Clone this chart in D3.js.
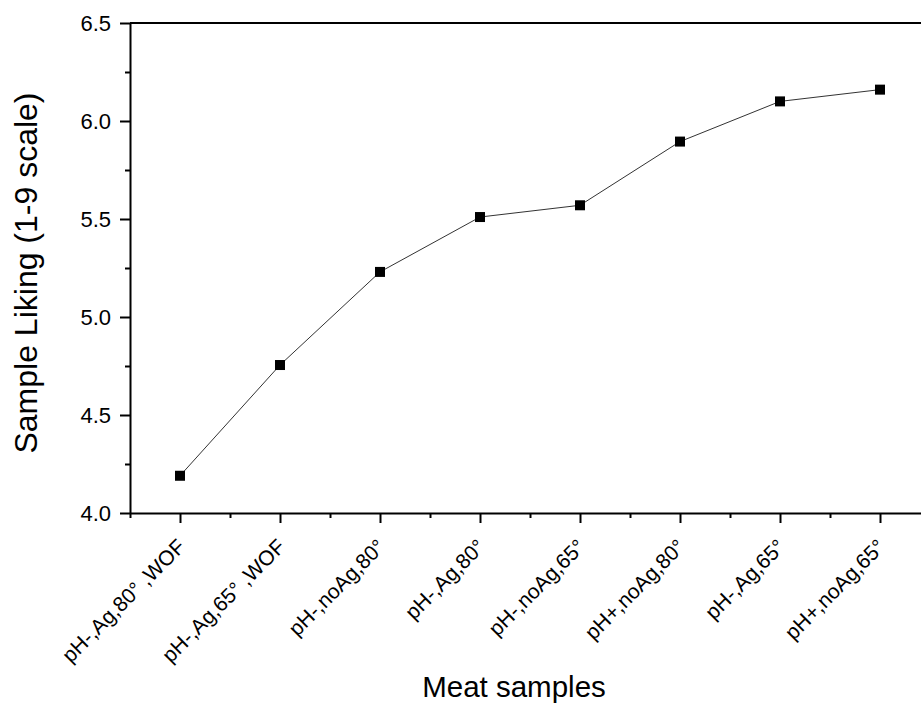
<!DOCTYPE html>
<html lang="en">
<head>
    <meta charset="UTF-8">
    <title>Sample Liking</title>
    <style>
        body { margin: 0; background: #fff; }
        text { font-family: Arial, "Liberation Sans", sans-serif; fill: #000; }
    </style>
</head>
<body>
    <script src="https://cdn.jsdelivr.net/npm/d3@7"></script>
    <svg id="mysvg" width="921" height="703"></svg>
    <script>
        // data
        var samples = ["pH-,Ag,80° ,WOF", "pH-,Ag,65° ,WOF", "pH-,noAg,80°", "pH-,Ag,80°",
                       "pH-,noAg,65°", "pH+,noAg,80°", "pH-,Ag,65°", "pH+,noAg,65°"];
        var liking = [4.19, 4.755, 5.23, 5.51, 5.57, 5.895, 6.10, 6.16];
        var yTicks = [4.0, 4.5, 5.0, 5.5, 6.0, 6.5];

        var plotLeft = 130, plotTop = 23, plotBottom = 513, plotRight = 930;

        var svg = d3.select("#mysvg");

        var x = d3.scaleLinear().domain([0.5, samples.length + 0.5]).range([plotLeft, plotRight]);
        var y = d3.scaleLinear().domain([4.0, 6.5]).range([plotBottom, plotTop]);

        // minor ticks
        var xMinor = d3.range(0.5, samples.length + 1, 1);
        var yMinor = d3.range(4.25, 6.5, 0.5);

        svg.append("g")
            .attr("transform", "translate(0," + plotBottom + ")")
            .call(d3.axisBottom(x).tickValues(xMinor).tickSize(5).tickFormat(""))
            .call(function(g){ g.select(".domain").remove(); });

        svg.append("g")
            .attr("transform", "translate(" + plotLeft + ",0)")
            .call(d3.axisLeft(y).tickValues(yMinor).tickSize(5).tickFormat(""))
            .call(function(g){ g.select(".domain").remove(); });

        // major x axis
        var xAxis = svg.append("g")
            .attr("transform", "translate(0," + plotBottom + ")")
            .call(d3.axisBottom(x).tickValues(d3.range(1, samples.length + 1)).tickSize(10).tickSizeOuter(0)
                .tickFormat(function(d){ return samples[d - 1]; }));
        xAxis.selectAll("text")
            .attr("text-anchor", "end")
            .attr("font-size", 21)
            .attr("y", 0).attr("dy", 0)
            .attr("transform", "translate(6,35) rotate(-45)");

        // major y axis
        var yAxis = svg.append("g")
            .attr("transform", "translate(" + plotLeft + ",0)")
            .call(d3.axisLeft(y).tickValues(yTicks).tickSize(10).tickSizeOuter(0).tickFormat(d3.format(".1f")));
        yAxis.selectAll("text").attr("font-size", 22).attr("x", -19).attr("dy", "0.36em");

        svg.selectAll(".domain").attr("stroke-width", 2);
        svg.selectAll(".tick line").attr("stroke-width", 2);
        svg.selectAll("g").attr("font-family", null);

        // top frame line
        svg.append("line")
            .attr("x1", plotLeft).attr("x2", plotRight)
            .attr("y1", plotTop).attr("y2", plotTop)
            .attr("stroke", "#000").attr("stroke-width", 2);

        // series line
        var line = d3.line()
            .x(function(d, i){ return x(i + 1); })
            .y(function(d){ return y(d); });

        svg.append("path")
            .datum(liking)
            .attr("d", line)
            .attr("fill", "none")
            .attr("stroke", "#333")
            .attr("stroke-width", 1);

        svg.selectAll("rect.pt")
            .data(liking)
            .enter().append("rect")
            .attr("class", "pt")
            .attr("x", function(d, i){ return x(i + 1) - 5; })
            .attr("y", function(d){ return y(d) - 5; })
            .attr("width", 10).attr("height", 10)
            .attr("fill", "#000");

        // axis titles
        svg.append("text")
            .attr("x", 514).attr("y", 697)
            .attr("text-anchor", "middle")
            .attr("font-size", 29.5)
            .text("Meat samples");

        svg.append("text")
            .attr("transform", "translate(37," + ((plotTop + plotBottom) / 2 + 5) + ") rotate(-90)")
            .attr("text-anchor", "middle")
            .attr("font-size", 32)
            .text("Sample Liking (1-9 scale)");
    </script>
</body>
</html>
